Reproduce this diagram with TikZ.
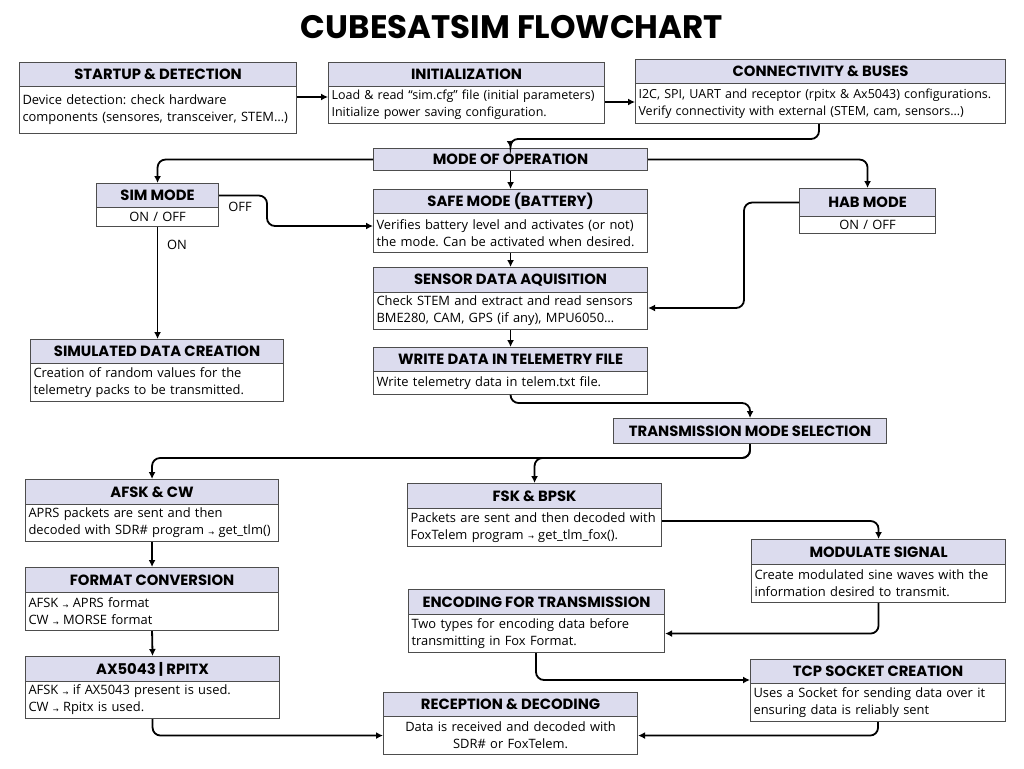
\documentclass[tikz,border=0pt]{standalone}
\usepackage{fontspec}
\setmainfont{Open Sans}
\newfontfamily\hdrfont{Poppins}
\newfontfamily\symfont{DejaVu Sans}
\usetikzlibrary{arrows.meta}
\frenchspacing
\hyphenpenalty=10000
\definecolor{hdrfill}{HTML}{DCDCEE}
\definecolor{boxline}{HTML}{4D4D4D}
\newcommand\myarr{{\symfont\fontsize{7}{7}\selectfont\raisebox{-0.5pt}{→}}}
\tikzset{
  hdr/.style={draw=boxline, line width=1.1pt, fill=hdrfill, anchor=north west, inner sep=0pt,
    font=\hdrfont\bfseries\fontsize{14.8}{16}\selectfont},
  bdy/.style={draw=boxline, line width=1.1pt, fill=white, anchor=north west, inner xsep=3pt, inner ysep=0pt,
    font=\fontsize{12.9}{17}\selectfont, align=left},
  smallbody/.style={font=\fontsize{12.5}{17}\selectfont},
  conn/.style={draw=black, line width=1.8pt, rounded corners=8pt, -{Latex[length=7pt,width=7pt]}},
  lbl/.style={font=\fontsize{12.9}{14}\selectfont, inner sep=0pt},
}
\newcommand\fcbox[9][]{%
  \pgfmathsetmacro\bw{#6-#3}%
  \pgfmathsetmacro\hh{#5-#4}%
  \pgfmathsetmacro\bh{#7-#5}%
  \pgfmathsetmacro\tw{#6-#3-6}%
  \node[bdy, minimum height=\bh pt, text width=\tw pt, #1] (#2B) at (#3,#5) {#9};
  \node[hdr, minimum width=\bw pt, minimum height=\hh pt] (#2H) at (#3,#4) {#8};
}
\newcommand\fchdr[6]{%
  \pgfmathsetmacro\bw{#4-#2}%
  \pgfmathsetmacro\hh{#5-#3}%
  \node[hdr, minimum width=\bw pt, minimum height=\hh pt] (#1H) at (#2,#3) {#6};
}
\begin{document}
\begin{tikzpicture}[x=1pt, y=-1pt]
\useasboundingbox (0,0) rectangle (1024,768);
\fill[white] (0,0) rectangle (1024,768);

\node[font=\hdrfont\bfseries\fontsize{32.5}{36}\selectfont, inner sep=0pt] (title) at (512,27) {CUBESATSIM FLOWCHART};

\fcbox{start}{19}{62}{86}{296}{133}{STARTUP \& DETECTION}{Device detection: check hardware\\components (sensores, transceiver, STEM…)}
\fcbox[smallbody]{init}{328}{62}{86}{604}{123}{INITIALIZATION}{Load \& read “sim.cfg” file (initial parameters)\\Initialize power saving configuration.}
\fcbox[smallbody]{conn}{635}{59}{83}{1005}{123}{CONNECTIVITY \& BUSES}{I2C, SPI, UART and receptor (rpitx \& Ax5043) configurations.\\Verify connectivity with external (STEM, cam, sensors…)}
\fchdr{mode}{373}{148}{647}{170}{MODE OF OPERATION}
\fcbox[align=center]{sim}{96}{183}{207}{218}{226}{SIM MODE}{ON / OFF}
\fcbox{safe}{373}{189}{213}{647}{252}{SAFE MODE (BATTERY)}{Verifies battery level and activates (or not)\\the mode. Can be activated when desired.}
\fcbox[align=center]{hab}{799}{188}{216}{935}{233}{HAB MODE}{ON / OFF}
\fcbox{sens}{373}{267}{292}{647}{329}{SENSOR DATA AQUISITION}{Check STEM and extract and read sensors\\BME280, CAM, GPS (if any), MPU6050…}
\fcbox{write}{373}{347}{371}{647}{394}{WRITE DATA IN TELEMETRY FILE}{Write telemetry data in telem.txt file.}
\fcbox{simd}{30}{339}{363}{283}{401}{SIMULATED DATA CREATION}{Creation of random values for the\\telemetry packs to be transmitted.}
\fchdr{trans}{613}{418}{886}{443}{TRANSMISSION MODE SELECTION}
\fcbox{afsk}{25}{479}{504}{278}{541}{AFSK \& CW}{APRS packets are sent and then\\decoded with SDR\# program \myarr{} get\_tlm()}
\fcbox{fmt}{25}{567}{592}{278}{630}{FORMAT CONVERSION}{AFSK \myarr{} APRS format\\CW \myarr{} MORSE format}
\fcbox{ax}{25}{656}{681}{279}{718}{AX5043 | RPITX}{AFSK \myarr{} if AX5043 present is used.\\CW \myarr{} Rpitx is used.}
\fcbox{fsk}{407}{483}{508}{661}{546}{FSK \& BPSK}{Packets are sent and then decoded with\\FoxTelem program \myarr{} get\_tlm\_fox().}
\fcbox{enc}{408}{589}{614}{664}{652}{ENCODING FOR TRANSMISSION}{Two types for encoding data before\\transmitting in Fox Format.}
\fcbox[align=center]{rec}{383}{692}{716}{637}{754}{RECEPTION \& DECODING}{Data is received and decoded with\\SDR\# or FoxTelem.}
\fcbox{mod}{751}{539}{564}{1005}{602}{MODULATE SIGNAL}{Create modulated sine waves with the\\information desired to transmit.}
\fcbox{tcp}{750}{659}{683}{1005}{721}{TCP SOCKET CREATION}{Uses a Socket for sending data over it\\ensuring data is reliably sent}

% connectors
\draw[conn] (startB.east |- 0,97) -- (initB.west |- 0,97);
\draw[conn] (initB.east |- 0,102) -- (connB.west |- 0,102);
\draw[conn] (connB.south -| 819,0) -- (819,139) -- (510,139) -- (modeH.north);
\draw[conn] (modeH.west) -| (simH.north);
\draw[conn] (modeH.south) -- (safeH.north);
\draw[conn] (modeH.east) -| (habH.north);
\draw[conn] (simH.east) -| (267,226) -- (safeB.west |- 0,226);
\node[lbl] (off) at (240,207) {OFF};
\draw[conn] (simB.south) -- (simdH.north -| simB.south);
\node[lbl] (on) at (177,245) {ON};
\draw[conn] (safeB.south) -- (sensH.north);
\draw[conn] (habH.west) -| (744,308) -- (sensB.east |- 0,308);
\draw[conn] (sensB.south) -- (writeH.north);
\draw[conn] (writeB.south) |- (transH.north |- 0,403) -- (transH.north);
\draw[conn] (transH.south) |- (afskH.north |- 0,458) -- (afskH.north);
\draw[conn] (transH.south) |- (fskH.north |- 0,458) -- (fskH.north);
\draw[conn] (afskB.south) -- (fmtH.north);
\draw[conn] (fmtB.south) -- (axH.north);
\draw[conn] (axB.south) |- (recB.west);
\draw[conn] (fskB.east |- 0,521) -| (modH.north);
\draw[conn] (modB.south) |- (encB.east);
\draw[conn] (encB.south -| 536,0) |- (tcpH.west |- 0,680);
\draw[conn] (tcpB.south) |- (recB.east);
\end{tikzpicture}
\end{document}
